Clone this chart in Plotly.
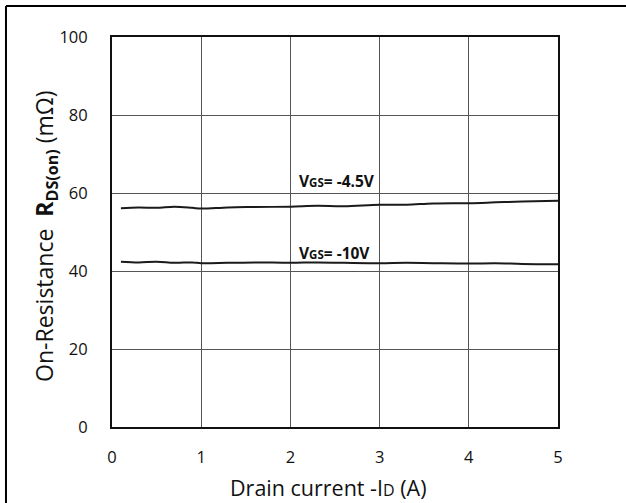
import plotly.graph_objects as go

# Drain current -ID (A)
id_45 = [0.1, 0.3, 0.5, 0.7, 0.9, 1.0, 1.3, 1.6, 2.0, 2.3, 2.6, 3.0, 3.3, 3.6, 4.0, 4.3, 4.6, 5.0]
r_45 = [56.1, 56.3, 56.2, 56.5, 56.2, 56.0, 56.3, 56.4, 56.5, 56.7, 56.6, 57.0, 57.0, 57.3, 57.4, 57.6, 57.8, 58.0]

id_10 = [0.1, 0.3, 0.5, 0.7, 0.9, 1.0, 1.3, 1.6, 2.0, 2.3, 2.6, 3.0, 3.3, 3.6, 4.0, 4.3, 4.6, 5.0]
r_10 = [42.4, 42.2, 42.4, 42.1, 42.2, 42.0, 42.1, 42.2, 42.1, 42.2, 42.1, 42.0, 42.1, 42.0, 41.9, 42.0, 41.8, 41.7]

label_45 = 'V<span style="font-size:11.5px">GS</span>= -4.5V'
label_10 = 'V<span style="font-size:11.5px">GS</span>= -10V'

x_title = 'Drain current -I<span style="font-size:16px">D</span> (A)'
y_title = 'On-Resistance  <b>R<sub>DS(on)</sub></b> (mΩ)'

x_ticks = [0, 1, 2, 3, 4, 5]
y_ticks = [0, 20, 40, 60, 80, 100]

FONT = "Open Sans"

fig = go.Figure()
fig.add_trace(go.Scatter(x=id_45, y=r_45, mode="lines",
                         line=dict(color="#1a1a1a", width=2, shape="spline"),
                         showlegend=False, hoverinfo="skip"))
fig.add_trace(go.Scatter(x=id_10, y=r_10, mode="lines",
                         line=dict(color="#1a1a1a", width=2, shape="spline"),
                         showlegend=False, hoverinfo="skip"))

fig.add_annotation(x=2.07, y=63.2, text="<b>" + label_45 + "</b>", showarrow=False,
                   xanchor="left", yanchor="middle", font=dict(family=FONT, size=15.5, color="#111"))
fig.add_annotation(x=2.07, y=44.6, text="<b>" + label_10 + "</b>", showarrow=False,
                   xanchor="left", yanchor="middle", font=dict(family=FONT, size=15.5, color="#111"))

# axis titles
fig.add_annotation(xref="paper", yref="paper", x=0.485, y=-0.154, text=x_title, showarrow=False,
                   xanchor="center", yanchor="middle", font=dict(family=FONT, size=21.5, color="#111"))
fig.add_annotation(xref="paper", yref="paper", x=-0.148, y=0.49, text=y_title, showarrow=False,
                   textangle=-90, xanchor="center", yanchor="middle",
                   font=dict(family=FONT, size=23, color="#111"))

# outer frame (cell border) at top and left
fig.add_shape(type="line", xref="paper", yref="paper", x0=-0.2377, x1=1.2, y0=1.0795, y1=1.0795,
              line=dict(color="#000", width=2))
fig.add_shape(type="line", xref="paper", yref="paper", x0=-0.2377, x1=-0.2377, y0=1.0795, y1=-0.25,
              line=dict(color="#000", width=2))

fig.update_layout(
    width=626, height=503,
    margin=dict(l=112, r=68, t=37, b=76),
    paper_bgcolor="white", plot_bgcolor="white",
    font=dict(family=FONT, color="#111"),
)
fig.update_xaxes(
    range=[0, 5], tickvals=x_ticks, ticktext=[str(v) for v in x_ticks],
    showgrid=True, gridcolor="#555", gridwidth=1,
    showline=True, linecolor="#111", linewidth=2, mirror=True,
    zeroline=False, ticks="", ticklabelstandoff=14,
    tickfont=dict(family=FONT, size=16.5, color="#111"),
)
fig.update_yaxes(
    range=[0, 100], tickvals=y_ticks, ticktext=[str(v) for v in y_ticks],
    showgrid=True, gridcolor="#555", gridwidth=1,
    showline=True, linecolor="#111", linewidth=2, mirror=True,
    zeroline=False, ticks="", ticklabelstandoff=19,
    tickfont=dict(family=FONT, size=16.5, color="#111"),
)

fig.write_html("out.html")
